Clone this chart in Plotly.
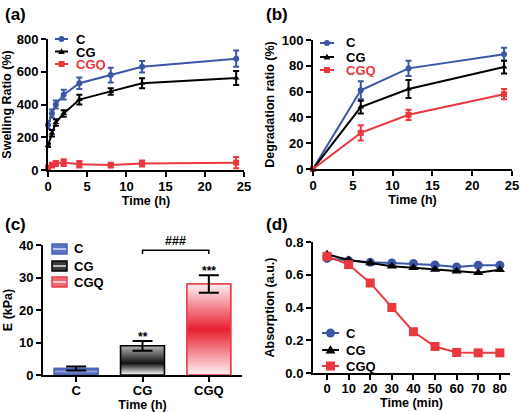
import plotly.graph_objects as go

W, H = 520, 412
BLUE = '#3a56a5'
RED = '#e9393e'
BLACK = '#000000'
FONT = 'Arial, Liberation Sans, sans-serif'

# ---------------- data ----------------
series_names = ['C', 'CG', 'CGQ']

# (a) swelling ratio
swell_time = [0, 0.5, 1, 2, 4, 8, 12, 24]
swell_C = [275, 345, 400, 460, 530, 580, 630, 680]
swell_C_err = [25, 25, 25, 30, 35, 45, 35, 50]
swell_CG = [150, 225, 290, 345, 430, 480, 530, 562]
swell_CG_err = [10, 20, 20, 20, 30, 20, 30, 43]
swell_CGQ = [15, 30, 40, 45, 35, 30, 40, 45]
swell_CGQ_err = [8, 15, 15, 20, 20, 15, 18, 35]

# (b) degradation ratio
deg_time = [0, 6, 12, 24]
deg_C = [0, 61, 78, 89]
deg_C_err = [0, 7, 6, 5]
deg_CG = [0, 48, 62, 79]
deg_CG_err = [0, 5, 7, 5]
deg_CGQ = [0, 28, 42, 58]
deg_CGQ_err = [0, 6, 4, 4]

# (c) modulus
mod_groups = ['C', 'CG', 'CGQ']
mod_E = [2.0, 9.0, 28.0]
mod_E_err = [0.6, 1.5, 2.7]
mod_stars = ['', '**', '***']

# (d) absorption
abs_time = [0, 10, 20, 30, 40, 50, 60, 70, 80]
abs_C = [0.700, 0.686, 0.676, 0.672, 0.668, 0.660, 0.648, 0.658, 0.658]
abs_CG = [0.725, 0.690, 0.672, 0.652, 0.643, 0.632, 0.622, 0.612, 0.630]
abs_CGQ = [0.712, 0.662, 0.550, 0.400, 0.252, 0.162, 0.125, 0.123, 0.123]

# ---------------- helpers ----------------
def px(x):
    return x / W

def py(y):
    return 1 - y / H

colors = [BLUE, BLACK, RED]
symbols = ['circle', 'triangle-up', 'square']

fig = go.Figure()

# (a)
for name, ys, es, c, s in zip(series_names, [swell_C, swell_CG, swell_CGQ],
                              [swell_C_err, swell_CG_err, swell_CGQ_err], colors, symbols):
    fig.add_trace(go.Scatter(
        x=swell_time, y=ys, name=name, mode='lines+markers',
        line=dict(color=c, width=2), marker=dict(color=c, symbol=s, size=6),
        error_y=dict(type='data', array=es, color=c, thickness=2, width=3),
        xaxis='x', yaxis='y', cliponaxis=False))

# (b)
for name, ys, es, c, s in zip(series_names, [deg_C, deg_CG, deg_CGQ],
                              [deg_C_err, deg_CG_err, deg_CGQ_err], colors, symbols):
    fig.add_trace(go.Scatter(
        x=deg_time, y=ys, name=name, mode='lines+markers',
        line=dict(color=c, width=2), marker=dict(color=c, symbol=s, size=6),
        error_y=dict(type='data', array=es, color=c, thickness=2, width=3),
        xaxis='x2', yaxis='y2', cliponaxis=False))

# (c) bars
bar_width = 0.66
bar_line = ['#4a63b5', '#000000', '#e8404a']
bar_swatch = ['#5b73c2', '#3a3a3a', '#f06a74']
bar_stripe = ['#b9c5ec', '#bbbbbb', '#fbd0d4']
bar_scales = [
    [[0, '#5068b8'], [0.42, '#6a80c6'], [0.5, '#c0cbee'], [0.58, '#6a80c6'], [1, '#5068b8']],
    [[0, '#ffffff'], [0.4, '#111111'], [1, '#b4b4b4']],
    [[0, '#fff2f4'], [0.5, '#e8202f'], [1, '#fdf0f2']],
]
for i, (g, v) in enumerate(zip(mod_groups, mod_E)):
    fig.add_trace(go.Bar(
        x=[i], y=[v], name=g, width=bar_width,
        marker=dict(color=bar_swatch[i], line=dict(color=bar_line[i], width=1.5)),
        xaxis='x3', yaxis='y3'))
for i, (g, v) in enumerate(zip(mod_groups, mod_E)):
    x0, x1 = i - bar_width / 2, i + bar_width / 2
    fig.add_trace(go.Scatter(
        x=[x0, x1, x1, x0, x0], y=[0, 0, v, v, 0], fill='toself', mode='lines',
        line=dict(color=bar_line[i], width=1.5),
        fillgradient=dict(type='vertical', colorscale=bar_scales[i]),
        hoverinfo='skip', xaxis='x3', yaxis='y3'))
fig.add_trace(go.Scatter(
    x=list(range(len(mod_groups))), y=mod_E, mode='markers',
    marker=dict(size=1, color='rgba(0,0,0,0)'),
    error_y=dict(type='data', array=mod_E_err, color='black', thickness=2, width=10),
    xaxis='x3', yaxis='y3', cliponaxis=False))

# (d)
for name, ys, c, s in zip(series_names, [abs_C, abs_CG, abs_CGQ], colors, symbols):
    fig.add_trace(go.Scatter(
        x=abs_time, y=ys, name=name, mode='lines+markers',
        line=dict(color=c, width=2), marker=dict(color=c, symbol=s, size=9),
        xaxis='x4', yaxis='y4', cliponaxis=False))

# ---------------- layout ----------------
tickfont = dict(family=FONT, size=13, color='black', weight='bold')
titlefont = dict(family=FONT, size=12.5, color='black', weight='bold')

def axis(**kw):
    d = dict(showline=True, linecolor='black', linewidth=2, ticks='outside', ticklen=5,
             tickwidth=2, tickcolor='black', showgrid=False, zeroline=False,
             tickfont=tickfont, automargin=False, fixedrange=True)
    d.update(kw)
    return d

fig.update_layout(
    width=W, height=H, template='none', showlegend=False,
    paper_bgcolor='white', plot_bgcolor='white',
    margin=dict(l=0, r=0, t=0, b=0),
    barmode='overlay',
    xaxis=axis(domain=[px(48), px(244)], range=[0, 25], dtick=5, anchor='y', ticklabelstandoff=-2,
               title=dict(text='Time (h)', font=titlefont, standoff=1)),
    yaxis=axis(domain=[py(170), py(39)], range=[0, 800], dtick=200, anchor='x',
               title=dict(text='Swelling Ratio (%)', font=titlefont, standoff=5)),
    xaxis2=axis(domain=[px(313), px(512)], range=[0, 25], dtick=5, anchor='y2', ticklabelstandoff=-2,
                title=dict(text='Time (h)', font=titlefont, standoff=1)),
    yaxis2=axis(domain=[py(169), py(40)], range=[0, 100], dtick=20, anchor='x2',
                title=dict(text='Degradation ratio (%)', font=titlefont, standoff=4)),
    xaxis3=axis(domain=[px(43), px(242)], range=[-0.5, 2.5], tickvals=[0, 1, 2],
                ticktext=mod_groups, anchor='y3', ticklabelstandoff=-3,
                title=dict(text='Time (h)', font=titlefont, standoff=0)),
    yaxis3=axis(domain=[py(375), py(245)], range=[0, 40], dtick=10, anchor='x3',
                title=dict(text='E (kPa)', font=titlefont, standoff=4)),
    xaxis4=axis(domain=[px(313), px(510)], range=[-6.5, 84.7], tickvals=abs_time, anchor='y4',
                ticklabelstandoff=-3,
                title=dict(text='Time (min)', font=titlefont, standoff=0)),
    yaxis4=axis(domain=[py(373), py(242)], range=[0, 0.8], dtick=0.2, tickformat='.1f', anchor='x4',
                title=dict(text='Absorption (a.u.)', font=titlefont, standoff=8)),
)

# ---------------- compact legends (layout only) ----------------
LEGFONT = 13

def legend_text(text, x, y, color='black', h=None):
    fig.add_annotation(text=text, x=px(x), y=py(y), xref='paper', yref='paper',
                       xanchor='left', yanchor='middle', showarrow=False, height=h,
                       font=dict(family=FONT, size=LEGFONT, color=color, weight='bold'))

def legend_marker(sym, cx, cy, r, color):
    base = dict(xref='paper', yref='paper', xsizemode='pixel', ysizemode='pixel',
                xanchor=px(cx), yanchor=py(cy), fillcolor=color, line=dict(width=0), layer='above')
    if sym == 'circle':
        fig.add_shape(type='circle', x0=-r, x1=r, y0=-r, y1=r, **base)
    elif sym == 'square':
        fig.add_shape(type='rect', x0=-r, x1=r, y0=-r, y1=r, **base)
    else:
        fig.add_shape(type='path', path='M %f,%f L %f,%f L 0,%f Z' % (-r * 1.1, -r * 0.8, r * 1.1, -r * 0.8, r * 1.1),
                      **base)

def line_legend(x0, x1, xt, rows, r, text_colors, h):
    for name, c, s, y, tc in zip(series_names, colors, symbols, rows, text_colors):
        fig.add_shape(type='line', xref='paper', yref='paper', x0=px(x0), x1=px(x1), y0=py(y), y1=py(y),
                      line=dict(color=c, width=2), layer='above')
        legend_marker(s, (x0 + x1) / 2, y, r, c)
        legend_text(name, xt, y, tc, h)

line_legend(55, 68, 74, [39, 51.5, 64], 3, ['black', 'black', RED], 12)
line_legend(320, 334, 344, [43, 57, 70], 3, ['black', 'black', RED], 13)
line_legend(322, 339, 344, [333, 350, 366], 4.5, ['black', 'black', 'black'], 15)

for name, y, c, f, st in zip(series_names, [249, 266, 282], bar_line, bar_swatch, bar_stripe):
    fig.add_shape(type='rect', xref='paper', yref='paper', x0=px(52), x1=px(67), y0=py(y + 5), y1=py(y - 5),
                  fillcolor=f, line=dict(color=c, width=1.5), layer='above')
    fig.add_shape(type='line', xref='paper', yref='paper', x0=px(53), x1=px(66), y0=py(y), y1=py(y),
                  line=dict(color=st, width=2), layer='above')
    legend_text(name, 72, y, 'black', 15)

# panel labels
for lab, x, y in [('(a)', 3, 15), ('(b)', 264, 15), ('(c)', 3, 224), ('(d)', 264, 224)]:
    fig.add_annotation(text=lab, x=px(x), y=py(y), xref='paper', yref='paper',
                       xanchor='left', yanchor='middle', showarrow=False,
                       font=dict(family=FONT, size=17, color='black', weight='bold'))

# significance marks in (c)
for i, (v, e, s) in enumerate(zip(mod_E, mod_E_err, mod_stars)):
    if s:
        fig.add_annotation(text=s, x=i, y=v + e + 1.2, xref='x3', yref='y3', showarrow=False,
                           yanchor='middle', font=dict(family=FONT, size=12, color='black', weight='bold'))
fig.add_shape(type='path', xref='x3', yref='y3',
              path='M 1,37.2 L 1,38.4 L 2,38.4 L 2,37.2', line=dict(color='black', width=1.5))
fig.add_annotation(text='###', x=1.5, y=38.5, xref='x3', yref='y3', showarrow=False,
                   yanchor='bottom', font=dict(family=FONT, size=12.5, color='black', weight='bold'))

fig.write_html('out.html', config={'displayModeBar': False},
               post_script="document.body.style.margin='0';document.body.style.padding='0';"
                           "document.documentElement.style.overflow='hidden';")
